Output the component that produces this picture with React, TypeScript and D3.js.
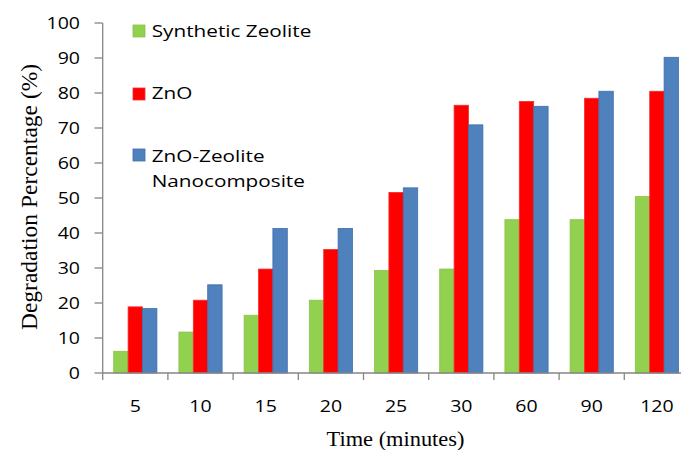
import React from "react";
import * as d3 from "d3";

const categories = ["5", "10", "15", "20", "25", "30", "60", "90", "120"];
const seriesNames = ["Synthetic Zeolite", "ZnO", "ZnO-Zeolite"];
const syntheticZeolite = [6.2, 11.7, 16.5, 20.8, 29.3, 29.7, 43.8, 43.8, 50.4];
const znO = [18.9, 20.8, 29.7, 35.3, 51.6, 76.5, 77.6, 78.5, 80.5];
const znOZeolite = [18.4, 25.2, 41.3, 41.3, 52.9, 70.9, 76.2, 80.5, 90.2];
const yTicks = [0, 10, 20, 30, 40, 50, 60, 70, 80, 90, 100];
const colors = ["#92D050", "#FF0000", "#4F81BD"];
const strokes = ["#8BC24A", "#F23030", "#3D6FB0"];

const W = 681;
const H = 450;
const SX = 1.22;
const axisColor = "#868686";
const sans = "'Open Sans', sans-serif";
const serif = "'Liberation Serif', 'Times New Roman', serif";

export default function App() {
  const y = d3.scaleLinear().domain([0, 100]).range([373, 23]);
  const x0 = d3.scaleBand<string>().domain(categories).range([102.7, 102.7 + 9 * 65.2]).paddingInner(0).paddingOuter(0);
  const x1 = d3.scaleBand<string>().domain(seriesNames).range([0, x0.bandwidth()]).paddingInner(0).paddingOuter(0.764);
  const data = [syntheticZeolite, znO, znOZeolite];
  const boundaries = [...categories.map((c) => x0(c)!), x0.range()[1]];

  const sText = (x: number, yy: number, txt: string, opts: any = {}) => (
    <text
      transform={`translate(${x},${yy}) scale(${opts.sx ?? SX},1)`}
      fontFamily={opts.ff ?? sans}
      fontSize={opts.fs ?? 16}
      textAnchor={opts.anchor ?? "start"}
      fill="#000"
    >
      {txt}
    </text>
  );

  return (
    <svg width={W} height={H} style={{ position: "fixed", left: 0, top: 0, background: "#fff" }}>
      <rect x={0} y={0} width={W} height={H} fill="#fff" />
      {/* bars */}
      {data.map((vals, si) => (
        <g key={si}>
          {categories.map((c, i) => (
            <rect
              key={c}
              x={x0(c)! + x1(seriesNames[si])!}
              y={y(vals[i])}
              width={x1.bandwidth()}
              height={y(0) - y(vals[i])}
              fill={colors[si]}
              stroke={strokes[si]}
              strokeWidth={0.8}
            />
          ))}
        </g>
      ))}
      {/* y axis */}
      <line x1={102.7} x2={102.7} y1={y(100)} y2={y(0)} stroke={axisColor} strokeWidth={1.3} />
      {yTicks.map((t) => (
        <g key={t}>
          <line x1={94.5} x2={102.7} y1={y(t)} y2={y(t)} stroke={axisColor} strokeWidth={1.3} />
          {sText(80, y(t) + 6, String(t), { anchor: "end", fs: 16 })}
        </g>
      ))}
      {/* x axis */}
      <line x1={102.7} x2={W} y1={y(0)} y2={y(0)} stroke={axisColor} strokeWidth={1.3} />
      {boundaries.map((b, i) => (
        <line key={i} x1={b} x2={b} y1={y(0)} y2={y(0) + 7} stroke={axisColor} strokeWidth={1.3} />
      ))}
      {categories.map((c) => (
        <g key={c}>{sText(x0(c)! + x0.bandwidth() / 2, 411.5, c, { anchor: "middle", fs: 16 })}</g>
      ))}
      {/* axis titles */}
      {sText(395.5, 446, "Time (minutes)", { anchor: "middle", ff: serif, fs: 20, sx: 1.12 })}
      <text
        transform={`translate(37,197) rotate(-90)`}
        fontFamily={serif}
        fontSize={23.5}
        textAnchor="middle"
        fill="#000"
      >
        Degradation Percentage (%)
      </text>
      {/* legend */}
      {seriesNames.map((s, i) => {
        const sy = [25, 88, 149][i];
        return (
          <rect key={s} x={133} y={sy} width={12} height={12} fill={colors[i]} stroke={strokes[i]} strokeWidth={0.8} />
        );
      })}
      {sText(151.7, 36.7, "Synthetic Zeolite", { fs: 17 })}
      {sText(151.7, 99.3, "ZnO", { fs: 17 })}
      {sText(151.7, 161.7, "ZnO-Zeolite", { fs: 17 })}
      {sText(151.7, 186.7, "Nanocomposite", { fs: 17 })}
    </svg>
  );
}
